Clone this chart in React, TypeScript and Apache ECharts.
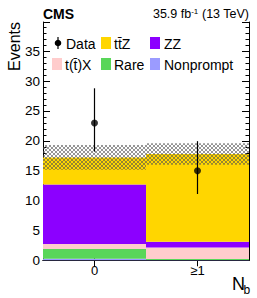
import React, { useEffect, useRef } from "react";
import * as echarts from "echarts";

const categories = ["0", "≥1"];
const nonprompt = [0.25, 0.05];
const rare = [1.65, 0.15];
const ttX = [0.85, 1.95];
const zz = [9.95, 0.95];
const ttZ = [4.5, 14.7];
const uncLow = [15.15, 16.0];
const uncHigh = [19.3, 19.6];
const dataY = [23, 15];
const dataLow = [18.2, 11.1];
const dataHigh = [28.8, 19.95];
const yTicks = [0, 5, 10, 15, 20, 25, 30, 35];

const FONT = "'Liberation Sans', Arial, Helvetica, sans-serif";

const C_TTZ = "#FFD600";
const C_ZZ = "#8C00FF";
const C_TTX = "#FFCCCC";
const C_RARE = "#59D659";
const C_NP = "#9B9BFF";

function makeHatch(): string {
  const c = document.createElement("canvas");
  c.width = 4;
  c.height = 4;
  const ctx = c.getContext("2d");
  if (ctx) {
    ctx.fillStyle = "rgba(80,80,80,0.6)";
    const pts = [
      [0, 0], [1, 1], [2, 2], [3, 3],
      [3, 0], [2, 1], [1, 2], [0, 3],
    ];
    pts.forEach(([x, y]) => ctx.fillRect(x, y, 1, 1));
  }
  return c.toDataURL();
}

export default function App() {
  const ref = useRef<HTMLDivElement>(null);
  useEffect(() => {
    if (!ref.current) return;
    const chart = echarts.init(ref.current, null, { renderer: "svg" });
    const hatch = { image: makeHatch(), repeat: "repeat" };

    const barSeries = (name: string, data: number[], color: string) => ({
      name,
      type: "bar",
      stack: "mc",
      data,
      barCategoryGap: "0%",
      itemStyle: { color },
      silent: true,
    });

    const legendItems: any[] = [];
    const boxes = [
      { x: 101, y: 37, c: C_TTZ, t: "tt̄Z", tx: 114 },
      { x: 150, y: 37, c: C_ZZ, t: "ZZ", tx: 164 },
      { x: 52, y: 58, c: C_TTX, t: "t(t̄)X", tx: 65 },
      { x: 101, y: 58, c: C_RARE, t: "Rare", tx: 114 },
      { x: 150, y: 58, c: C_NP, t: "Nonprompt", tx: 164 },
    ];
    boxes.forEach((b) => {
      legendItems.push({
        type: "rect",
        shape: { x: b.x, y: b.y, width: 10, height: 12 },
        style: { fill: b.c },
      });
      legendItems.push({
        type: "text",
        x: b.tx,
        y: b.y + 6.5,
        style: { text: b.t, fontSize: 14, fontFamily: FONT, fill: "#000", verticalAlign: "middle", align: "left" },
      });
    });
    legendItems.push({
      type: "line",
      shape: { x1: 58, y1: 37, x2: 58, y2: 49 },
      style: { stroke: "#000", lineWidth: 1.2 },
    });
    legendItems.push({
      type: "circle",
      shape: { cx: 58, cy: 43, r: 3.3 },
      style: { fill: "#000" },
    });
    legendItems.push({
      type: "text",
      x: 66,
      y: 43.5,
      style: { text: "Data", fontSize: 14, fontFamily: FONT, fill: "#000", verticalAlign: "middle" },
    });

    const yAxisBase = {
      type: "value",
      min: 0,
      max: 39.9,
      interval: 5,
      splitLine: { show: false },
      axisLine: { show: true, lineStyle: { color: "#000", width: 1 } },
      axisTick: { show: true, inside: true, length: 7, lineStyle: { color: "#000" } },
      minorTick: { show: true, splitNumber: 5, length: 3.5, lineStyle: { color: "#000" } },
    };
    const xAxisBase = {
      type: "category",
      data: categories,
      boundaryGap: true,
      splitLine: { show: false },
      axisLine: { show: true, lineStyle: { color: "#000", width: 1 } },
      axisTick: { show: true, inside: true, alignWithLabel: true, length: 6, lineStyle: { color: "#000" } },
    };

    chart.setOption({
      animation: false,
      grid: { left: 43, top: 22, width: 206, height: 238.3, containLabel: false },
      xAxis: [
        {
          ...xAxisBase,
          position: "bottom",
          axisLabel: { show: true, fontSize: 13, fontFamily: FONT, color: "#000", margin: 4 },
        },
        { ...xAxisBase, position: "top", axisLabel: { show: false } },
      ],
      yAxis: [
        {
          ...yAxisBase,
          position: "left",
          axisLabel: {
            show: true,
            fontSize: 13.5,
            fontFamily: FONT,
            color: "#000",
            margin: 3,
            formatter: (v: number) => (yTicks.includes(v) ? String(v) : ""),
          },
        },
        { ...yAxisBase, position: "right", axisLabel: { show: false } },
      ],
      series: [
        barSeries("Nonprompt", nonprompt, C_NP),
        barSeries("Rare", rare, C_RARE),
        barSeries("t(t̄)X", ttX, C_TTX),
        barSeries("ZZ", zz, C_ZZ),
        barSeries("tt̄Z", ttZ, C_TTZ),
        {
          name: "Uncertainty",
          type: "custom",
          data: categories.map((_, i) => [i, uncLow[i], uncHigh[i]]),
          z: 5,
          silent: true,
          renderItem: (params: any, api: any) => {
            const i = api.value(0);
            const top = api.coord([i, api.value(2)]);
            const bot = api.coord([i, api.value(1)]);
            const w = api.size([1, 0])[0];
            return {
              type: "rect",
              shape: { x: top[0] - w / 2, y: top[1], width: w, height: bot[1] - top[1] },
              style: { fill: hatch },
            };
          },
        },
        {
          name: "DataErr",
          type: "custom",
          data: categories.map((_, i) => [i, dataLow[i], dataHigh[i]]),
          z: 6,
          silent: true,
          renderItem: (params: any, api: any) => {
            const i = api.value(0);
            const lo = api.coord([i, api.value(1)]);
            const hi = api.coord([i, api.value(2)]);
            return {
              type: "line",
              shape: { x1: lo[0], y1: lo[1], x2: hi[0], y2: hi[1] },
              style: { stroke: "#000", lineWidth: 1.2 },
            };
          },
        },
        {
          name: "Data",
          type: "scatter",
          data: dataY.map((v, i) => [i, v]),
          symbol: "circle",
          symbolSize: 7,
          itemStyle: { color: "#000" },
          z: 7,
          silent: true,
        },
      ],
      graphic: [
        {
          type: "text",
          x: 43,
          y: 14,
          style: { text: "CMS", fontSize: 14, fontWeight: "bold", fontFamily: FONT, fill: "#000", verticalAlign: "middle" },
        },
        {
          type: "text",
          x: 249,
          y: 14,
          style: {
            text: "{a|35.9 fb}{s|-1}{a| (13 TeV)}",
            align: "right",
            verticalAlign: "middle",
            rich: {
              a: { fontSize: 12.5, fontFamily: FONT, fill: "#000", color: "#000" },
              s: { fontSize: 8, fontFamily: FONT, fill: "#000", color: "#000", verticalAlign: "top" },
            },
          },
        },
        {
          type: "text",
          x: 14,
          y: 22,
          rotation: Math.PI / 2,
          style: { text: "Events", fontSize: 16, fontFamily: FONT, fill: "#000", align: "right", verticalAlign: "middle" },
        },
        {
          type: "text",
          x: 232,
          y: 284,
          style: { text: "N", fontSize: 18, fontFamily: FONT, fill: "#000", verticalAlign: "middle" },
        },
        {
          type: "text",
          x: 243.5,
          y: 290,
          style: { text: "b", fontSize: 12, fontFamily: FONT, fill: "#000", verticalAlign: "middle" },
        },
        ...legendItems,
      ],
    });
    return () => chart.dispose();
  }, []);
  return (
    <div
      ref={ref}
      style={{ position: "fixed", left: 0, top: 0, width: 257, height: 298, background: "#fff" }}
    />
  );
}
